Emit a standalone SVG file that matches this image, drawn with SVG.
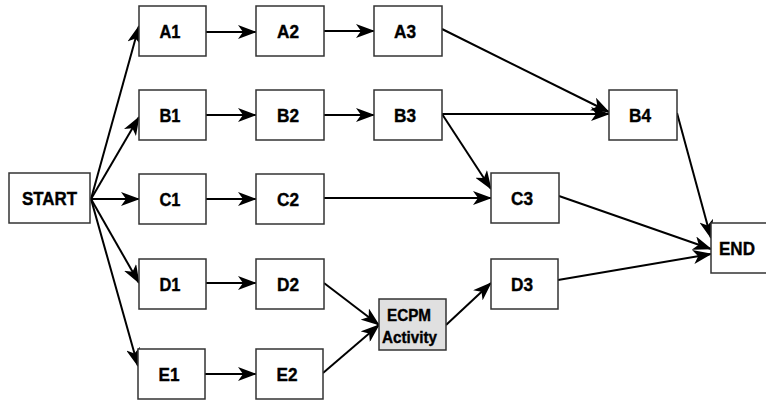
<svg xmlns="http://www.w3.org/2000/svg" width="766" height="400" viewBox="0 0 766 400">
<style>
.box{fill:#fff;stroke:#333;stroke-width:1.5}
.gray{fill:#e0e0e0}
.t{font-family:"Liberation Sans",Arial,sans-serif;font-weight:bold;font-size:19px;fill:#000;text-anchor:middle;stroke:#000;stroke-width:0.4}
.s{font-size:17px}
.c{fill:none;stroke:#000;stroke-width:2;marker-end:url(#ah)}
</style>
<defs>
<marker id="ah" markerUnits="userSpaceOnUse" markerWidth="19" markerHeight="14" refX="18" refY="7" orient="auto" viewBox="0 0 19 14">
<path d="M0,0 L19,7 L0,14 L5,7 z" fill="#000"/>
</marker>
</defs>
<g id="connectors">
<line class="c" x1="91" y1="199" x2="139" y2="26"/>
<line class="c" x1="91" y1="199" x2="139" y2="117"/>
<line class="c" x1="91" y1="199" x2="139" y2="199"/>
<line class="c" x1="91" y1="199" x2="139" y2="283"/>
<line class="c" x1="91" y1="199" x2="138" y2="366"/>
<line class="c" x1="206" y1="32" x2="256" y2="32"/>
<line class="c" x1="324" y1="31" x2="374" y2="31"/>
<line class="c" x1="206" y1="115" x2="256" y2="115"/>
<line class="c" x1="324" y1="115" x2="374" y2="115"/>
<line class="c" x1="206" y1="199" x2="256" y2="199"/>
<line class="c" x1="206" y1="283" x2="256" y2="283"/>
<line class="c" x1="205" y1="374" x2="256" y2="374"/>
<line class="c" x1="442" y1="29" x2="609" y2="112"/>
<line class="c" x1="442" y1="114" x2="609" y2="114"/>
<line class="c" x1="442" y1="114" x2="491" y2="189"/>
<line class="c" x1="324" y1="198" x2="491" y2="198"/>
<line class="c" x1="559" y1="196" x2="711" y2="249"/>
<line class="c" x1="558" y1="280" x2="711" y2="254"/>
<line class="c" x1="677" y1="113" x2="711" y2="238"/>
<line class="c" x1="324" y1="283" x2="379" y2="325"/>
<line class="c" x1="323" y1="373" x2="379" y2="325"/>
<line class="c" x1="446" y1="325" x2="491" y2="283"/>
</g>
<g id="START"><rect class="box" x="9" y="173" width="81" height="50"/><text class="t" x="49.5" y="205" textLength="55" lengthAdjust="spacingAndGlyphs">START</text></g>
<g id="A1"><rect class="box" x="139" y="6" width="67" height="50"/><text class="t" x="170" y="38" textLength="21" lengthAdjust="spacingAndGlyphs">A1</text></g>
<g id="A2"><rect class="box" x="256" y="6" width="68" height="50"/><text class="t" x="288" y="38" textLength="22" lengthAdjust="spacingAndGlyphs">A2</text></g>
<g id="A3"><rect class="box" x="374" y="6" width="68" height="50"/><text class="t" x="405" y="38" textLength="22" lengthAdjust="spacingAndGlyphs">A3</text></g>
<g id="B1"><rect class="box" x="139" y="90" width="67" height="50"/><text class="t" x="170" y="122" textLength="21" lengthAdjust="spacingAndGlyphs">B1</text></g>
<g id="B2"><rect class="box" x="256" y="90" width="68" height="50"/><text class="t" x="288" y="122" textLength="22" lengthAdjust="spacingAndGlyphs">B2</text></g>
<g id="B3"><rect class="box" x="374" y="90" width="68" height="50"/><text class="t" x="405" y="122" textLength="22" lengthAdjust="spacingAndGlyphs">B3</text></g>
<g id="B4"><rect class="box" x="609" y="90" width="68" height="50"/><text class="t" x="640" y="122" textLength="22" lengthAdjust="spacingAndGlyphs">B4</text></g>
<g id="C1"><rect class="box" x="139" y="174" width="67" height="50"/><text class="t" x="170" y="206" textLength="21" lengthAdjust="spacingAndGlyphs">C1</text></g>
<g id="C2"><rect class="box" x="256" y="174" width="68" height="50"/><text class="t" x="288" y="206" textLength="22" lengthAdjust="spacingAndGlyphs">C2</text></g>
<g id="C3"><rect class="box" x="491" y="173" width="68" height="50"/><text class="t" x="522" y="205" textLength="22" lengthAdjust="spacingAndGlyphs">C3</text></g>
<g id="D1"><rect class="box" x="139" y="259" width="67" height="50"/><text class="t" x="170" y="291" textLength="21" lengthAdjust="spacingAndGlyphs">D1</text></g>
<g id="D2"><rect class="box" x="256" y="259" width="68" height="50"/><text class="t" x="288" y="291" textLength="22" lengthAdjust="spacingAndGlyphs">D2</text></g>
<g id="D3"><rect class="box" x="491" y="259" width="67" height="50"/><text class="t" x="522" y="291" textLength="22" lengthAdjust="spacingAndGlyphs">D3</text></g>
<g id="E1"><rect class="box" x="138" y="349" width="67" height="50"/><text class="t" x="169" y="381" textLength="21" lengthAdjust="spacingAndGlyphs">E1</text></g>
<g id="E2"><rect class="box" x="256" y="349" width="67" height="50"/><text class="t" x="287" y="381" textLength="21" lengthAdjust="spacingAndGlyphs">E2</text></g>
<g id="ECPM"><rect class="box gray" x="379" y="299" width="67" height="51"/><text class="t s" x="409" y="321" textLength="44" lengthAdjust="spacingAndGlyphs">ECPM</text><text class="t s" x="409.5" y="343" textLength="55" lengthAdjust="spacingAndGlyphs">Activity</text></g>
<g id="END"><rect class="box" x="711" y="223" width="60" height="50"/><text class="t" x="737" y="255" textLength="36" lengthAdjust="spacingAndGlyphs">END</text></g>
</svg>
